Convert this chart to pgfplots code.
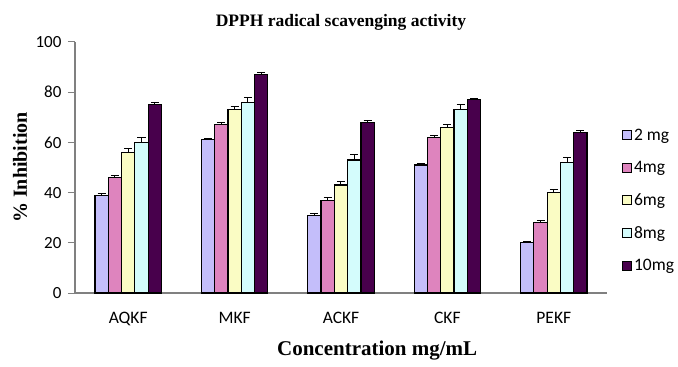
\documentclass[border=0pt]{standalone}
\usepackage{fontspec}
\setmainfont{Liberation Serif}
\newfontfamily\carlito{Carlito}
\usepackage{pgfplots}
\pgfplotsset{compat=1.18}
\definecolor{cA}{RGB}{196,190,250}
\definecolor{cB}{RGB}{222,132,190}
\definecolor{cC}{RGB}{250,252,196}
\definecolor{cD}{RGB}{212,252,252}
\definecolor{cE}{RGB}{72,0,76}
\definecolor{axgray}{RGB}{128,128,128}
\begin{document}
\begin{tikzpicture}
\begin{axis}[
  scale only axis, width=532pt, height=251pt,
  at={(0,0)}, anchor=south west,
  ybar=0pt, bar width=13.3pt,
  xmin=-0.5, xmax=4.5, ymin=0, ymax=100,
  xtick={0,1,2,3,4}, xticklabels={AQKF,MKF,ACKF,CKF,PEKF},
  ytick={0,20,40,60,80,100},
  axis x line=bottom, axis y line=left,
  axis line style={axgray, line width=1.5pt, -},
  y axis line style={line width=1.2pt},
  xtick style={draw=none},
  ytick style={axgray, line width=1pt},
  tick align=outside, major tick length=7pt,
  /pgf/number format/assume math mode=true,
  yticklabel style={font=\carlito\fontsize{17}{17}\selectfont, xshift=-3pt},
  xticklabel style={font=\carlito\fontsize{17.5}{17.5}\selectfont, yshift=-9pt},
  title={\bfseries DPPH radical scavenging activity},
  title style={font=\fontsize{17.5}{18}\selectfont, at={(rel axis cs:0.5,1)}, anchor=center, yshift=14pt},
  xlabel={\bfseries Concentration mg/mL},
  xlabel style={font=\fontsize{21}{22}\selectfont, at={(rel axis cs:0.568,0)}, anchor=center, yshift=-58pt},
  ylabel={\bfseries \% Inhibition},
  ylabel style={font=\fontsize{20}{21}\selectfont, at={(rel axis cs:-0.1034,0.5)}, anchor=center},
  legend style={draw=none, fill=none, at={(rel axis cs:1.028,0.662)}, anchor=north west,
    font=\carlito\fontsize{17.5}{17.5}\selectfont, inner sep=0pt, row sep=15.5pt,
    /tikz/every even column/.append style={column sep=0pt}},
  legend cell align=left,
  legend image code/.code={\draw[#1, line width=1pt] (0pt,-4.5pt) rectangle (9pt,4.5pt);},
  every axis plot/.append style={draw=black, line width=1.2pt,
    error bars/y dir=plus, error bars/y explicit,
    error bars/error bar style={black, line width=1pt},
    error bars/error mark options={rotate=90, black, mark size=4pt, line width=1pt}},
]
\addplot[fill=cA] coordinates {(0,39) +- (0,0.6) (1,61) +- (0,0.6) (2,31) +- (0,0.7) (3,51) +- (0,0.6) (4,20) +- (0,0.6)};
\addplot[fill=cB] coordinates {(0,46) +- (0,0.9) (1,67) +- (0,0.9) (2,37) +- (0,1.0) (3,62) +- (0,0.8) (4,28) +- (0,0.9)};
\addplot[fill=cC] coordinates {(0,56) +- (0,1.5) (1,73) +- (0,1.5) (2,43) +- (0,1.4) (3,66) +- (0,1.3) (4,40) +- (0,1.3)};
\addplot[fill=cD] coordinates {(0,60) +- (0,2.0) (1,76) +- (0,2.0) (2,53) +- (0,2.0) (3,73) +- (0,2.0) (4,52) +- (0,2.0)};
\addplot[fill=cE] coordinates {(0,75) +- (0,0.7) (1,87) +- (0,0.7) (2,68) +- (0,0.7) (3,77) +- (0,0.6) (4,64) +- (0,0.7)};
\legend{2 mg,4mg,6mg,8mg,10mg}
\end{axis}
\pgfresetboundingbox
\useasboundingbox (-75pt,-74pt) rectangle (603pt,293pt);
\end{tikzpicture}
\end{document}
